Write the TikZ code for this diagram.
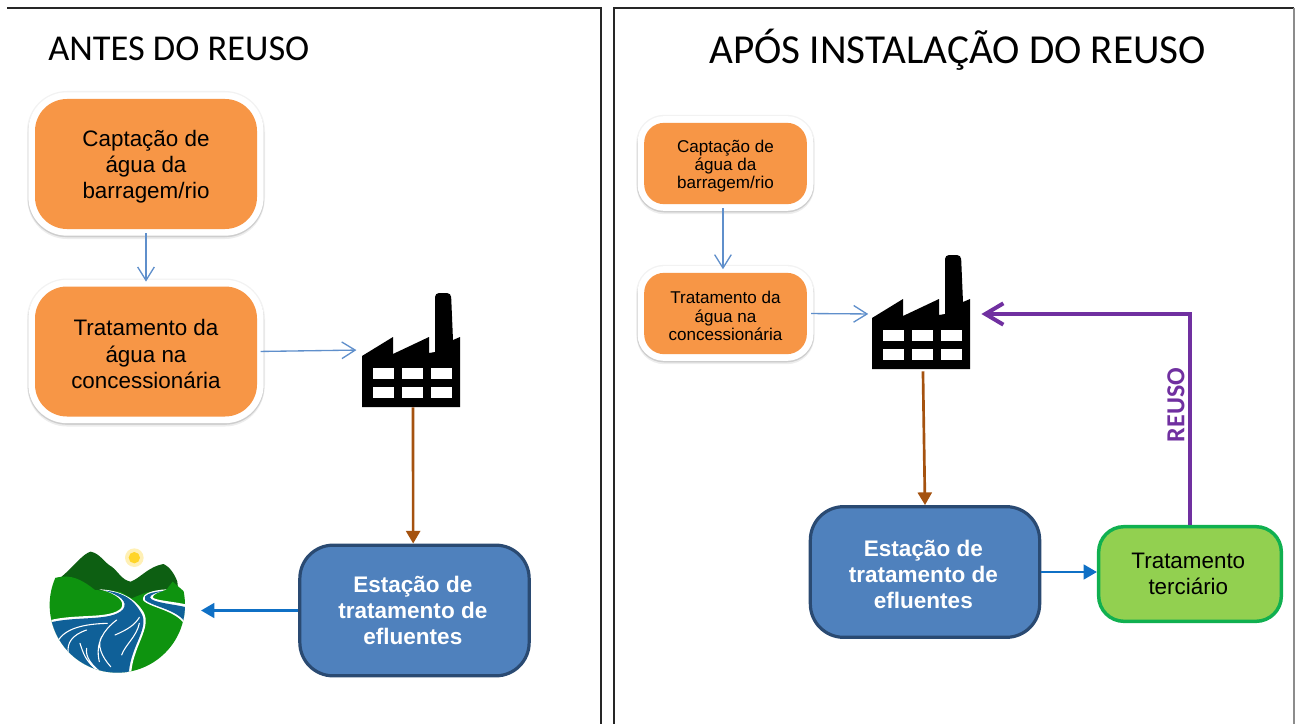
\documentclass[tikz,border=0pt]{standalone}
\usepackage{fontspec}
\setmainfont{Liberation Sans}
\newfontfamily\titlefont{Carlito}
\usetikzlibrary{arrows.meta}
\definecolor{orangebox}{HTML}{F79646}
\definecolor{bluebox}{HTML}{4F81BD}
\definecolor{blueedge}{HTML}{2A4A72}
\definecolor{greenbox}{HTML}{92D050}
\definecolor{greenedge}{HTML}{10B050}
\definecolor{thinblue}{HTML}{5F8FCB}
\definecolor{brownline}{HTML}{A5520F}
\definecolor{strongblue}{HTML}{0F70C5}
\definecolor{reuse}{HTML}{7030A0}
\definecolor{hillgreen}{HTML}{0E930F}
\definecolor{mountgreen}{HTML}{0D5F12}
\definecolor{riverblue}{HTML}{0F6098}
\definecolor{sunyellow}{HTML}{FFD52A}
% a taller first line pushes the centred block of text slightly down
\newcommand{\liftbig}{\rule{0pt}{16pt}}
\newcommand{\liftsmall}{\rule{0pt}{13pt}}
\newcommand{\liftbold}{\rule{0pt}{16pt}}
\tikzset{
  halo/.style={
    preaction={draw=black,opacity=.05,line width=12pt},
    preaction={draw=black,opacity=.07,line width=11pt,transform canvas={yshift=-2pt}},
    preaction={draw=black,opacity=.09,line width=10.5pt,transform canvas={yshift=-1pt}},
    preaction={draw=white,line width=10pt},
    fill=orangebox,rounded corners=#1,inner sep=0pt,align=center},
  bigorange/.style={halo=24pt,minimum width=166.5pt,minimum height=97.5pt,
    font=\fontsize{16.8}{19.7}\selectfont},
  smallorange/.style={halo=15pt,minimum width=122pt,minimum height=61pt,
    font=\fontsize{12.8}{13.6}\selectfont},
  station/.style={draw=blueedge,line width=2.4pt,fill=bluebox,rounded corners=25pt,
    minimum width=172pt,minimum height=98pt,inner sep=0pt,align=center,text=white,
    font=\bfseries\fontsize{16.9}{19.8}\selectfont},
  tertiary/.style={draw=greenedge,line width=2.6pt,fill=greenbox,rounded corners=19pt,
    minimum width=137pt,minimum height=71pt,inner sep=0pt,align=center,
    font=\fontsize{16.8}{19.7}\selectfont},
  plantslot/.style={minimum width=73.5pt,minimum height=85.5pt,inner sep=0pt},
  heading/.style={anchor=base west,inner sep=0pt},
  frameline/.style={draw=black!85,line width=1.5pt},
  thinflow/.style={draw=thinblue,line width=1pt,-{Straight Barb[length=10pt,width=12.5pt,line width=1pt]}},
  sludgeflow/.style={draw=brownline,line width=2pt,-{Triangle[length=9.5pt,width=10.5pt]}},
  outflow/.style={draw=strongblue,line width=2pt,-{Triangle[length=10pt,width=11pt]}},
  reuseflow/.style={draw=reuse,line width=3pt,line join=miter,-{Straight Barb[length=13.5pt,width=16pt,line width=3pt]}},
  plant/.pic={
    \fill[black] (0,114) -- (0,63) -- (31,44) -- (31,61) -- (67,44) -- (67,60) -- (73,59)
      [rounded corners=3pt] -- (73,0) -- (89,0) [sharp corners] -- (91,47) -- (98,44) -- (98,114) -- cycle;
    \foreach \wx in {11,40,69}
      \foreach \wy in {75,94}
        \fill[white] (\wx,\wy) rectangle ++(21,10.5);
  }
}
\begin{document}
\begin{tikzpicture}[x=0.75pt,y=-0.75pt]
\useasboundingbox (0,0) rectangle (1296,724);

% panel outlines
\draw[frameline] (7,8) -- (601,8) -- (601,724);
\draw[frameline] (614,724) -- (614,8) -- (1294,8);
\draw[draw=black!45,line width=.8pt] (1294,8) -- (1294,724);

% headings
\node[heading,font=\titlefont\fontsize{27.3}{30}\selectfont] (titleA) at (48,61) {ANTES DO REUSO};
\node[heading,font=\titlefont\fontsize{30.9}{33}\selectfont] (titleB) at (709,64) {APÓS INSTALAÇÃO DO REUSO};

% left panel: nodes
\node[bigorange] (capA) at (146,164) {\liftbig Captação de\\água da\\barragem/rio};
\node[bigorange] (tratA) at (146,351.5) {\liftbig Tratamento da\\água na\\concessionária};
\node[plantslot] (plantA) at (411,350) {};
\pic at (362,293) {plant};
\node[station] (estA) at (414.5,610.5) {Estação de\kern2.5pt\\tratamento de\kern2.5pt\\efluentes\kern2.5pt};
\coordinate (rioA) at (185,610.5);

% river landscape, drawn on a one-third pixel grid
\begin{scope}[shift={(20,530)},x=0.25pt,y=-0.25pt]
  \fill[sunyellow!35] (343,83) circle (28);
  \fill[sunyellow] (343,83) circle (17);
  \fill[mountgreen] (125,140) .. controls (160,110) and (190,70) .. (212,65)
    .. controls (240,70) and (255,100) .. (275,110)
    .. controls (295,125) and (305,150) .. (332,155)
    .. controls (360,145) and (385,110) .. (430,102)
    .. controls (450,110) and (465,135) .. (472,155) -- (480,230) -- (300,240) -- (150,200) -- cycle;
  \begin{scope}
    \clip (292,225) circle (203);
    % green land
    \fill[hillgreen] (70,150) -- (125,140) .. controls (165,135) and (200,160) .. (225,180)
      -- (300,185) -- (335,205) -- (372,190) .. controls (390,182) and (425,185) .. (440,178)
      -- (458,155) -- (510,200) -- (510,440) -- (70,440) -- cycle;
    % main river
    \fill[white] (88,271) .. controls (170,250) and (270,268) .. (303,235)
      .. controls (318,215) and (290,190) .. (238,178)
      .. controls (300,180) and (345,205) .. (370,245)
      .. controls (398,295) and (335,350) .. (333,440) -- (80,440) -- cycle;
    \fill[riverblue] (88,278) .. controls (170,257) and (275,275) .. (309,238)
      .. controls (325,215) and (300,195) .. (255,182)
      .. controls (310,187) and (340,208) .. (363,248)
      .. controls (392,295) and (327,350) .. (326,440) -- (80,440) -- cycle;
    % side stream
    \fill[white] (440,178) .. controls (400,180) and (362,190) .. (370,212)
      .. controls (390,232) and (460,240) .. (490,278) -- (505,278) -- (505,225)
      .. controls (470,215) and (405,212) .. (398,202)
      .. controls (398,192) and (420,186) .. (440,178) -- cycle;
    \fill[riverblue] (430,183) .. controls (395,186) and (368,194) .. (375,210)
      .. controls (395,228) and (465,238) .. (492,272) -- (500,272) -- (500,232)
      .. controls (460,222) and (395,218) .. (390,202)
      .. controls (392,192) and (412,188) .. (430,183) -- cycle;
    % white currents
    \draw[white,line width=.8pt,line cap=round]
      (112,335) .. controls (135,295) and (190,282) .. (262,280)
      (145,370) .. controls (140,340) and (155,315) .. (200,300)
      (238,395) .. controls (225,340) and (250,300) .. (290,270)
      (272,410) .. controls (245,380) and (230,345) .. (245,320)
      (285,315) .. controls (320,300) and (345,285) .. (358,262)
      (305,375) .. controls (315,345) and (350,320) .. (358,280)
      (180,340) .. controls (190,370) and (195,390) .. (230,420)
      (200,355) .. controls (195,380) and (215,405) .. (240,425);
  \end{scope}
\end{scope}

% left panel: connectors
\draw[thinflow,shorten <=3pt,shorten >=3.5pt] (capA.south) -- (tratA.north);
\draw[thinflow,shorten <=2.5pt,shorten >=4pt] (tratA.east) -- (plantA.west);
\draw[sludgeflow] ([xshift=1.5pt]plantA.south) -- ([xshift=-1pt]estA.north);
\draw[outflow,shorten >=12pt] (estA.west) -- (rioA);

% right panel: nodes
\node[smallorange] (capB) at (725.5,163.5) {\liftsmall Captação de\\água da\\barragem/rio};
\node[smallorange] (tratB) at (725.5,313.5) {\liftsmall Tratamento da\\água na\\concessionária};
\node[plantslot] (plantB) at (921.5,314) {};
\pic at (872,255) {plant};
\node[station] (estB) at (925,572) {\liftbold Estação de\kern2.5pt\\tratamento de\kern2.5pt\\efluentes\kern2.5pt};
\node[tertiary] (terc) at (1190,574) {Tratamento\kern2.5pt\\terciário\kern2.5pt};

% right panel: connectors
\draw[thinflow,shorten <=3pt,shorten >=2.5pt] ([xshift=-1.9pt]capB.south) -- ([xshift=-1.9pt]tratB.north);
\draw[thinflow,shorten <=3pt,shorten >=3pt] (tratB.east) -- (plantB.west);
\draw[sludgeflow] ([xshift=1.1pt]plantB.south) -- (estB.north);
\draw[outflow] (estB.east) -- (estB.east -| terc.west);
\draw[reuseflow,shorten >=8pt] (terc.north) |- (plantB.east);
\node[rotate=90,inner sep=0pt,text=reuse,font=\titlefont\bfseries\fontsize{19.5}{21}\selectfont] (reuseLabel) at (1176,405) {REUSO};
\end{tikzpicture}
\end{document}
